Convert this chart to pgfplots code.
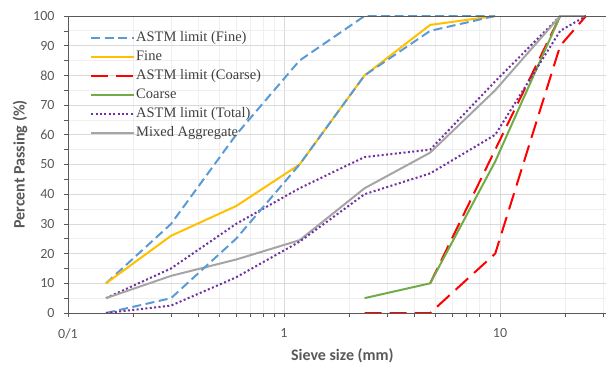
\documentclass[border=0pt]{standalone}
\usepackage{fontspec}
\setmainfont{Liberation Serif}
\newfontfamily\carlito{Carlito}
\usepackage{pgfplots}
\pgfplotsset{compat=1.18}
\definecolor{astmblue}{HTML}{5B9BD5}
\definecolor{fineyel}{HTML}{FFC000}
\definecolor{cred}{HTML}{FF0000}
\definecolor{cgreen}{HTML}{70AD47}
\definecolor{cpurple}{HTML}{7030A0}
\definecolor{cgray}{HTML}{A5A5A5}
\definecolor{txtgray}{HTML}{595959}
\definecolor{gridmaj}{HTML}{D9D9D9}
\definecolor{gridmin}{HTML}{EFEFEF}
\definecolor{leggray}{HTML}{404040}
\begin{document}
\begin{tikzpicture}
\begin{axis}[
  scale only axis,
  width=538bp, height=297bp,
  xmode=log,
  xmin=0.1, xmax=30.95,
  ymin=0, ymax=100,
  xtick={0.1,1,10},
  xticklabels={0/1,1,10},
  minor xtick={0.2,0.3,0.4,0.5,0.6,0.7,0.8,0.9,2,3,4,5,6,7,8,9,20,30},
  ytick={0,10,...,100},
  minor ytick={5,15,...,95},
  grid=both,
  major grid style={gridmaj, line width=0.8bp},
  minor grid style={gridmin, line width=0.8bp},
  axis line style={draw=none},
  xtick pos=bottom, ytick pos=left,
  tick align=outside,
  major tick length=4bp, minor tick length=4bp,
  every tick/.style={txtgray, line width=0.6bp},
  /pgf/number format/assume math mode=true,
  yticklabel style={font=\carlito\fontsize{14bp}{16bp}\selectfont, text=txtgray, xshift=-6bp},
  xticklabel style={font=\carlito\fontsize{14bp}{16bp}\selectfont, text=txtgray, yshift=-8bp},
  xlabel={Sieve size (mm)},
  ylabel={Percent Passing (\%)},
  every axis x label/.style={at={(axis description cs:0.51,-0.145)}, anchor=center,
    font=\carlito\bfseries\fontsize{16bp}{18bp}\selectfont, text=txtgray},
  every axis y label/.style={at={(axis description cs:-0.0892,0.5)}, rotate=90, anchor=center,
    font=\carlito\bfseries\fontsize{16bp}{18bp}\selectfont, text=txtgray},
  legend cell align=left,
  legend style={at={(axis description cs:0,1)}, anchor=north west, xshift=19bp, yshift=-12bp,
    draw=none, fill=none, font=\fontsize{14.5bp}{16bp}\selectfont, text=leggray,
    row sep=3.0bp, nodes={inner sep=1bp, text height=10.5bp, text depth=3.5bp}},
  legend image code/.code={\draw[#1] (0bp,0bp) -- (43bp,0bp);},
]
% ASTM limit (Fine)
\addplot[astmblue, line width=2bp, dash pattern=on 9bp off 4.5bp] coordinates {
  (0.15,10) (0.3,30) (0.6,60) (1.18,85) (2.36,100) (4.75,100) (9.5,100)};
\addlegendentry{ASTM limit (Fine)}
% Fine
\addplot[fineyel, line width=2bp] coordinates {
  (0.15,10) (0.3,26) (0.6,36) (1.18,50) (2.36,80) (4.75,97) (9.5,100)};
\addlegendentry{Fine}
% ASTM limit (Coarse)
\addplot[cred, line width=2bp, dash pattern=on 17bp off 8bp] coordinates {
  (4.75,10) (9.5,55) (19,100) (25,100)};
\addlegendentry{ASTM limit (Coarse)}
% Coarse
\addplot[cgreen, line width=2bp] coordinates {
  (2.36,5) (4.75,10) (9.5,51) (19,100)};
\addlegendentry{Coarse}
% ASTM limit (Total)
\addplot[cpurple, line width=2bp, dash pattern=on 2bp off 2.4bp] coordinates {
  (0.15,5) (0.3,15) (0.6,30) (1.18,42) (2.36,52.5) (4.75,55) (9.5,78) (19,100) (25,100)};
\addlegendentry{ASTM limit (Total)}
% Mixed
\addplot[cgray, line width=2bp] coordinates {
  (0.15,5) (0.3,12.5) (0.6,18) (1.18,24.5) (2.36,42) (4.75,54) (9.5,75) (19,100) (25,100)};
\addlegendentry{Mixed Aggregate}
% lower limits
\addplot[forget plot, astmblue, line width=2bp, dash pattern=on 9bp off 4.5bp] coordinates {
  (0.15,0) (0.3,5) (0.6,25) (1.18,50) (2.36,80) (4.75,95) (9.5,100)};
\addplot[forget plot, cred, line width=2bp, dash pattern=on 17bp off 8bp] coordinates {
  (2.36,0) (4.75,0) (9.5,20) (19,90) (25,100)};
\addplot[forget plot, cpurple, line width=2bp, dash pattern=on 2bp off 2.4bp] coordinates {
  (0.15,0) (0.3,2.5) (0.6,12) (1.18,24) (2.36,40) (4.75,47) (9.5,60) (19,95) (25,100)};
% axis lines
\draw[txtgray, line width=0.9bp] (rel axis cs:0,0) -- (rel axis cs:1,0);
\draw[txtgray, line width=0.9bp] (rel axis cs:0,1) -- (rel axis cs:1,1);
\draw[txtgray, line width=0.9bp] (rel axis cs:0,0) -- (rel axis cs:0,1);
\end{axis}
\pgfresetboundingbox
\path[use as bounding box] ([shift={(-68bp,-52bp)}]current axis.south west) rectangle ([shift={(0bp,16bp)}]current axis.north east);
\end{tikzpicture}
\end{document}
